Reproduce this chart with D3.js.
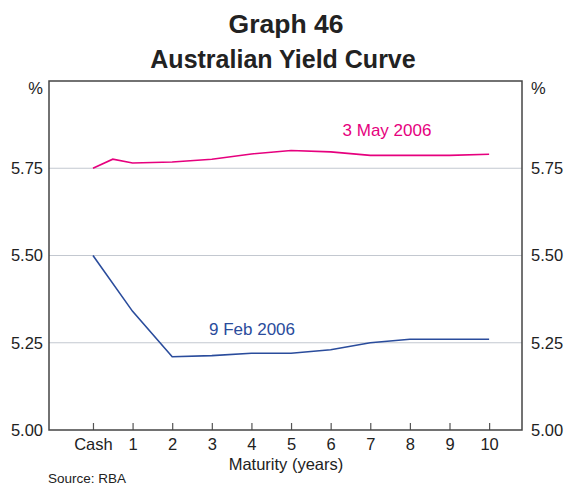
<!DOCTYPE html>
<html><head><meta charset="utf-8">
<script src="https://cdn.jsdelivr.net/npm/d3@7"></script>
<style>
html,body{margin:0;padding:0;background:#fff;}
svg{display:block;font-family:"Liberation Sans",Arial,sans-serif;}
</style></head>
<body><svg id="c" width="569" height="486"></svg>
<script>
const categories = ["Cash","1","2","3","4","5","6","7","8","9","10"];
const categoryPositions = [0,1,2,3,4,5,6,7,8,9,10];
const mayMaturities = [0,0.5,1,2,3,4,5,6,7,8,9,10];
const mayValues = [5.75,5.776,5.765,5.768,5.776,5.791,5.801,5.797,5.787,5.787,5.787,5.790];
const febMaturities = [0,1,2,3,4,5,6,7,8,9,10];
const febValues = [5.50,5.34,5.21,5.213,5.22,5.22,5.23,5.25,5.26,5.26,5.26];
const yTicks = [5.00,5.25,5.50,5.75];
const gridTicks = [5.25,5.50,5.75];

const svg = d3.select("#c");
const L = 49, R = 522, T = 81, B = 430;
const x = d3.scaleLinear().domain([-1.11, 10.83]).range([L, R]);
const y = d3.scaleLinear().domain([5.0, 6.0]).range([B, T]);

// titles
svg.append("text").attr("x", 286).attr("y", 33).attr("text-anchor","middle")
  .attr("font-size", 26.5).attr("font-weight","bold").attr("fill","#222").text("Graph 46");
svg.append("text").attr("x", 283).attr("y", 68).attr("text-anchor","middle")
  .attr("font-size", 25).attr("font-weight","bold").attr("fill","#222").text("Australian Yield Curve");

// gridlines
svg.append("g").selectAll("line").data(gridTicks).join("line")
  .attr("x1", L).attr("x2", R).attr("y1", d => y(d)).attr("y2", d => y(d))
  .attr("stroke", "#c3c8d0").attr("stroke-width", 1.2);

// axes
const fs = 16.5;
const gL = svg.append("g").attr("transform", `translate(${L},0)`)
  .call(d3.axisLeft(y).tickValues(yTicks).tickSize(0).tickPadding(6).tickFormat(d3.format(".2f")));
const gR = svg.append("g").attr("transform", `translate(${R},0)`)
  .call(d3.axisRight(y).tickValues(yTicks).tickSize(0).tickPadding(9).tickFormat(d3.format(".2f")));
const gB = svg.append("g").attr("transform", `translate(0,${B})`)
  .call(d3.axisBottom(x).tickValues(categoryPositions).tickSizeInner(-7).tickSizeOuter(0).tickPadding(8)
    .tickFormat((d,i) => categories[i]));
[gL,gR,gB].forEach(g => {
  g.select(".domain").remove();
  g.selectAll("text").attr("font-size", fs).attr("fill","#222").attr("font-family",'"Liberation Sans",Arial,sans-serif');
});
gB.selectAll(".tick line").attr("stroke","#555").attr("stroke-width",1.2);

// frame
svg.append("rect").attr("x", L).attr("y", T).attr("width", R-L).attr("height", B-T)
  .attr("fill","none").attr("stroke","#444").attr("stroke-width",1.5);

// unit labels
svg.append("text").attr("x", 43).attr("y", 94).attr("text-anchor","end").attr("font-size", fs).attr("fill","#222").text("%");
svg.append("text").attr("x", 531).attr("y", 94).attr("font-size", fs).attr("fill","#222").text("%");

// lines
const line = d3.line().x(d => x(d[0])).y(d => y(d[1]));
svg.append("path").datum(mayMaturities.map((m,i)=>[m, mayValues[i]]))
  .attr("d", line).attr("fill","none").attr("stroke","#e6007e").attr("stroke-width",1.6);
svg.append("path").datum(febMaturities.map((m,i)=>[m, febValues[i]]))
  .attr("d", line).attr("fill","none").attr("stroke","#2a4c9c").attr("stroke-width",1.6);

// series labels
svg.append("text").attr("x", 387).attr("y", 136).attr("text-anchor","middle")
  .attr("font-size", 17).attr("fill","#e6007e").text("3 May 2006");
svg.append("text").attr("x", 252).attr("y", 335).attr("text-anchor","middle")
  .attr("font-size", 17).attr("fill","#2a4c9c").text("9 Feb 2006");

// axis title and source
svg.append("text").attr("x", 286).attr("y", 470).attr("text-anchor","middle")
  .attr("font-size", fs).attr("fill","#222").text("Maturity (years)");
svg.append("text").attr("x", 48).attr("y", 483).attr("font-size", 13.5).attr("fill","#222").text("Source: RBA");
</script></body></html>
